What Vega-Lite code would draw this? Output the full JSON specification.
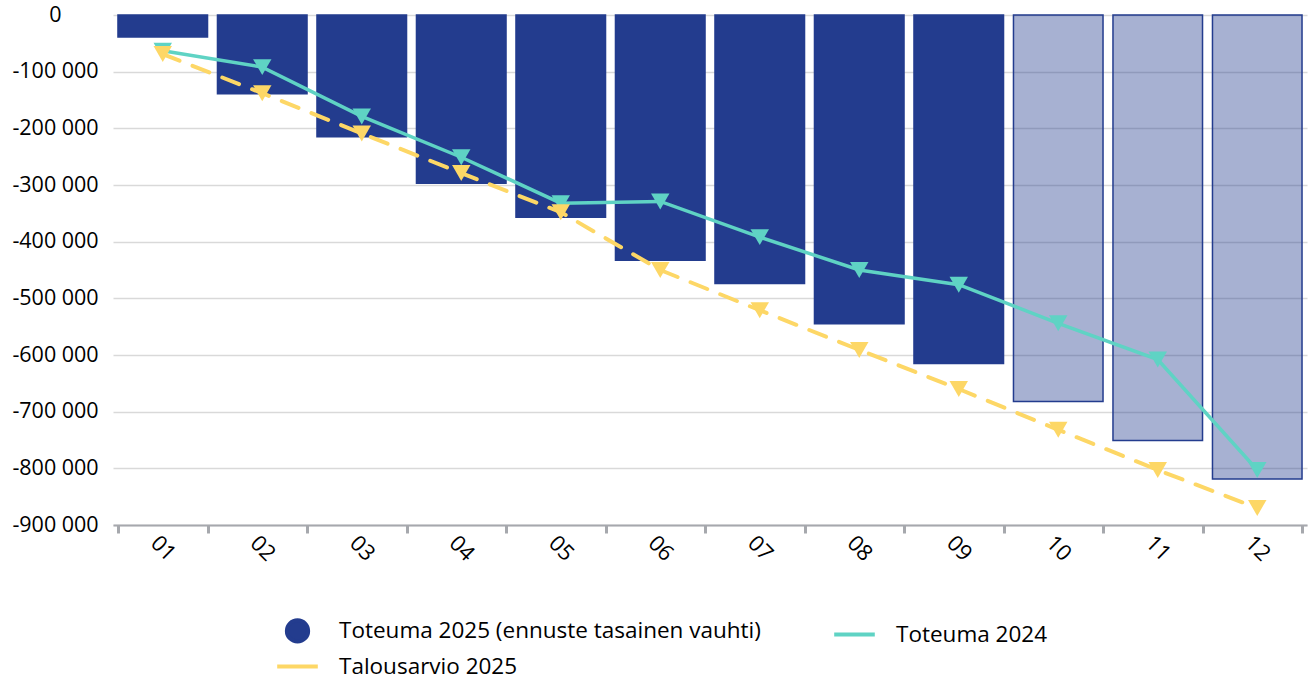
{
  "$schema": "https://vega.github.io/schema/vega-lite/v6.json",
  "width": 1194,
  "height": 510,
  "autosize": "none",
  "padding": {"left": 113, "top": 15, "right": 5, "bottom": 154},
  "background": "white",
  "config": {"view": {"stroke": null}, "font": "Open Sans"},
  "datasets": {
    "rows": [
      {"month": "01", "series": "Toteuma 2025 (ennuste tasainen vauhti)", "value": -39000, "forecast": false},
      {"month": "02", "series": "Toteuma 2025 (ennuste tasainen vauhti)", "value": -139000, "forecast": false},
      {"month": "03", "series": "Toteuma 2025 (ennuste tasainen vauhti)", "value": -215000, "forecast": false},
      {"month": "04", "series": "Toteuma 2025 (ennuste tasainen vauhti)", "value": -297000, "forecast": false},
      {"month": "05", "series": "Toteuma 2025 (ennuste tasainen vauhti)", "value": -357000, "forecast": false},
      {"month": "06", "series": "Toteuma 2025 (ennuste tasainen vauhti)", "value": -433000, "forecast": false},
      {"month": "07", "series": "Toteuma 2025 (ennuste tasainen vauhti)", "value": -474000, "forecast": false},
      {"month": "08", "series": "Toteuma 2025 (ennuste tasainen vauhti)", "value": -545000, "forecast": false},
      {"month": "09", "series": "Toteuma 2025 (ennuste tasainen vauhti)", "value": -615000, "forecast": false},
      {"month": "10", "series": "Toteuma 2025 (ennuste tasainen vauhti)", "value": -682000, "forecast": true},
      {"month": "11", "series": "Toteuma 2025 (ennuste tasainen vauhti)", "value": -751000, "forecast": true},
      {"month": "12", "series": "Toteuma 2025 (ennuste tasainen vauhti)", "value": -819000, "forecast": true},
      {"month": "01", "series": "Toteuma 2024", "value": -63000, "forecast": false},
      {"month": "02", "series": "Toteuma 2024", "value": -92000, "forecast": false},
      {"month": "03", "series": "Toteuma 2024", "value": -179000, "forecast": false},
      {"month": "04", "series": "Toteuma 2024", "value": -251000, "forecast": false},
      {"month": "05", "series": "Toteuma 2024", "value": -332000, "forecast": false},
      {"month": "06", "series": "Toteuma 2024", "value": -329000, "forecast": false},
      {"month": "07", "series": "Toteuma 2024", "value": -392000, "forecast": false},
      {"month": "08", "series": "Toteuma 2024", "value": -450000, "forecast": false},
      {"month": "09", "series": "Toteuma 2024", "value": -476000, "forecast": false},
      {"month": "10", "series": "Toteuma 2024", "value": -544000, "forecast": false},
      {"month": "11", "series": "Toteuma 2024", "value": -608000, "forecast": false},
      {"month": "12", "series": "Toteuma 2024", "value": -803000, "forecast": false},
      {"month": "01", "series": "Talousarvio 2025", "value": -69000, "forecast": false},
      {"month": "02", "series": "Talousarvio 2025", "value": -138000, "forecast": false},
      {"month": "03", "series": "Talousarvio 2025", "value": -209000, "forecast": false},
      {"month": "04", "series": "Talousarvio 2025", "value": -279000, "forecast": false},
      {"month": "05", "series": "Talousarvio 2025", "value": -348000, "forecast": false},
      {"month": "06", "series": "Talousarvio 2025", "value": -450000, "forecast": false},
      {"month": "07", "series": "Talousarvio 2025", "value": -521000, "forecast": false},
      {"month": "08", "series": "Talousarvio 2025", "value": -591000, "forecast": false},
      {"month": "09", "series": "Talousarvio 2025", "value": -660000, "forecast": false},
      {"month": "10", "series": "Talousarvio 2025", "value": -732000, "forecast": false},
      {"month": "11", "series": "Talousarvio 2025", "value": -803000, "forecast": false},
      {"month": "12", "series": "Talousarvio 2025", "value": -870000, "forecast": false}
    ]
  },
  "data": {"name": "rows"},
  "encoding": {
    "x": {
      "field": "month",
      "type": "ordinal",
      "scale": {"paddingInner": 0.1, "paddingOuter": 0.05},
      "axis": {
        "title": null,
        "labelAngle": 45,
        "labelAlign": "center",
        "labelBaseline": "middle",
        "labelPadding": 15,
        "labelFontSize": 22,
        "labelColor": "#000000",
        "tickBand": "extent",
        "tickSize": 8,
        "tickWidth": 3,
        "tickColor": "#A6A8AD",
        "domainColor": "#A6A8AD",
        "domainWidth": 2,
        "grid": false
      }
    },
    "y": {
      "field": "value",
      "type": "quantitative",
      "scale": {"domain": [-900000, 0], "nice": false},
      "axis": {
        "title": null,
        "values": [0, -100000, -200000, -300000, -400000, -500000, -600000, -700000, -800000, -900000],
        "labelExpr": "(datum.value < 0 ? '-' : '') + replace(format(abs(datum.value), ','), /,/g, ' ')",
        "ticks": false,
        "tickSize": 0,
        "domain": false,
        "labelAlign": "center",
        "labelBaseline": "middle",
        "labelPadding": 58,
        "labelFontSize": 21.5,
        "labelColor": "#000000",
        "gridColor": "#D9D9D9",
        "gridWidth": 1.5
      }
    },
    "color": {
      "field": "series",
      "type": "nominal",
      "scale": {
        "domain": ["Toteuma 2025 (ennuste tasainen vauhti)", "Toteuma 2024", "Talousarvio 2025"],
        "range": ["#233C8E", "#5FD3C4", "#FDD766"]
      },
      "legend": {
        "orient": "none",
        "legendX": 168,
        "legendY": 599,
        "direction": "horizontal",
        "columns": 2,
        "title": null,
        "labelFontSize": 22.5,
        "labelColor": "#000000",
        "labelLimit": 0,
        "symbolSize": 400,
        "columnPadding": 65,
        "rowPadding": 0,
        "labelOffset": 25,
        "encode": {
          "symbols": {
            "update": {
              "shape": {"signal": "datum.value === 'Toteuma 2025 (ennuste tasainen vauhti)' ? 'circle' : 'M-1.4,0L1.4,0'"},
              "size": {"signal": "datum.value === 'Toteuma 2025 (ennuste tasainen vauhti)' ? 452 : 841"},
              "fill": {"signal": "datum.value === 'Toteuma 2025 (ennuste tasainen vauhti)' ? '#233C8E' : 'transparent'"},
              "stroke": {"signal": "datum.value === 'Toteuma 2024' ? '#5FD3C4' : (datum.value === 'Talousarvio 2025' ? '#FDD766' : 'transparent')"},
              "strokeWidth": {"value": 4},
              "strokeDash": {"value": []},
              "opacity": {"value": 1},
              "fillOpacity": {"value": 1},
              "strokeOpacity": {"value": 1}
            }
          }
        }
      }
    }
  },
  "layer": [
    {
      "transform": [{"filter": "datum.series === 'Toteuma 2025 (ennuste tasainen vauhti)'"}],
      "mark": {"type": "bar", "stroke": "#233C8E", "strokeWidth": 1.5},
      "encoding": {
        "fillOpacity": {"condition": {"test": "datum.forecast", "value": 0.4}, "value": 1}
      }
    },
    {
      "transform": [{"filter": "datum.series === 'Toteuma 2024'"}],
      "mark": {"type": "line", "strokeWidth": 3.5}
    },
    {
      "transform": [{"filter": "datum.series === 'Toteuma 2024'"}],
      "mark": {"type": "point", "shape": "triangle-down", "filled": true, "size": 340, "opacity": 1}
    },
    {
      "transform": [{"filter": "datum.series === 'Talousarvio 2025'"}],
      "mark": {"type": "line", "strokeWidth": 4, "strokeDash": [18, 14], "strokeCap": "round"}
    },
    {
      "transform": [{"filter": "datum.series === 'Talousarvio 2025'"}],
      "mark": {"type": "point", "shape": "triangle-down", "filled": true, "size": 340, "opacity": 1}
    }
  ]
}
